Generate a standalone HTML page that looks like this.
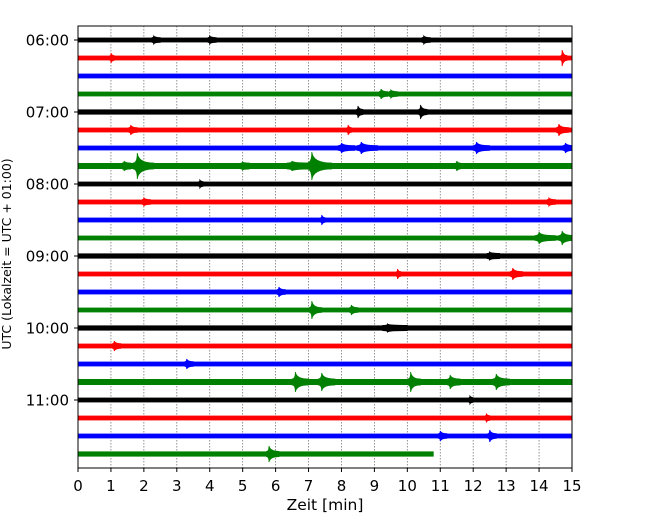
<!DOCTYPE html>
<html><head><meta charset="utf-8"><style>
body{margin:0;background:#fff;font-family:"Liberation Sans","DejaVu Sans",sans-serif}
svg text{font-family:"DejaVu Sans","Liberation Sans",sans-serif}
</style></head><body>
<svg id="chart" width="650" height="520" xmlns="http://www.w3.org/2000/svg">
<defs><clipPath id="plotclip"><rect x="78" y="26" width="494" height="442"/></clipPath></defs>
<g id="grid"></g>
<g id="traces" clip-path="url(#plotclip)"></g>
<rect x="78" y="26" width="494" height="442" fill="none" stroke="#000" stroke-width="1"/>
<g id="xaxis"></g>
<g id="yaxis"></g>
<text x="325" y="510" text-anchor="middle" font-size="15.5">Zeit  [min]</text>
<text transform="translate(11,254) rotate(-90)" text-anchor="middle" font-size="12.5">UTC (Lokalzeit = UTC + 01:00)</text>
</svg>
<script>
const xTicks=[0,1,2,3,4,5,6,7,8,9,10,11,12,13,14,15];
const hourLabels=["06:00","07:00","08:00","09:00","10:00","11:00"];
const rowColors=["#000","#f00","#00f","#008000"];
const rowNoise=[2.4,2.4,2.4,2.4,2.6,2.4,2.4,3,2.4,2.4,2.4,2.4,2.6,2.4,2.4,2.4,2.6,2.4,2.4,3,2.4,2.4,2.4,2.6];
const rowEnd=[15,15,15,15,15,15,15,15,15,15,15,15,15,15,15,15,15,15,15,15,15,15,15,10.8];
// events: [row, minute, amplitude, duration(min)]
const events=[[0,2.3,4,0.2],[0,4,4,0.2],[0,10.5,4,0.2],
[1,1,5,0.1],[1,14.7,8,0.15],
[3,9.2,5,0.2],[3,9.5,4,0.2],
[4,8.5,6,0.15],[4,10.4,7,0.2],
[5,1.6,5,0.2],[5,8.2,5,0.1],[5,14.6,6,0.3],
[6,8,5,0.4],[6,8.6,6,0.5],[6,12.1,6,0.4],[6,14.8,5,0.3],
[7,1.4,5,0.2],[7,1.8,13,0.5],[7,5,4,0.2],[7,6.5,5,0.6],[7,7.1,14,0.6],[7,11.5,5,0.1],
[8,3.7,4,0.1],[9,2,4,0.2],[9,14.3,4,0.2],[10,7.4,5,0.1],
[11,14,6,0.5],[11,14.7,7,0.4],
[12,12.5,4,0.3],[13,9.7,5,0.1],[13,13.2,6,0.3],[14,6.1,5,0.2],
[15,7.1,9,0.3],[15,8.3,5,0.2],[16,9.4,4,0.6],[17,1.1,5,0.2],[18,3.3,5,0.2],
[19,6.6,10,0.4],[19,7.4,9,0.4],[19,10.1,10,0.3],[19,11.3,7,0.3],[19,12.7,8,0.4],
[20,11.9,4,0.1],[21,12.4,4,0.1],[22,11,5,0.2],[22,12.5,6,0.2],[23,5.8,8,0.3]];
const NS="http://www.w3.org/2000/svg";
const X=m=>78+m*494/15, Y=r=>40+r*18;
function mk(t,a,p){const e=document.createElementNS(NS,t);for(const k in a)e.setAttribute(k,a[k]);p.appendChild(e);return e;}
const grid=document.getElementById('grid'),tr=document.getElementById('traces'),xa=document.getElementById('xaxis'),ya=document.getElementById('yaxis');
xTicks.forEach(t=>{
 if(t>0&&t<15){const g=mk('line',{x1:X(t),x2:X(t),y1:26,y2:468,stroke:'#777','stroke-width':0.8,'stroke-dasharray':'1.5,1.5'},grid);
 }
 const tk=mk('line',{x1:X(t),x2:X(t),y1:468,y2:472,stroke:'#000'},xa);
 
 const l=mk('text',{x:X(t),y:491,'text-anchor':'middle','font-size':15},xa);l.textContent=t;
 
});
hourLabels.forEach((h,i)=>{
 const y=Y(i*4);
 const tk=mk('line',{x1:74,x2:78,y1:y,y2:y,stroke:'#000'},ya);
 
 const l=mk('text',{x:69,y:y+5.5,'text-anchor':'end','font-size':15},ya);l.textContent=h;
 
});
rowNoise.forEach((n,r)=>{
 const c=rowColors[r%4];
 const b=mk('rect',{x:X(0),y:Y(r)-n,width:X(rowEnd[r])-X(0),height:2*n,fill:c},tr);
 
});
events.forEach(([r,m,a,d])=>{
 const c=rowColors[r%4],y=Y(r),n=rowNoise[r];
 const x0=X(m-d*0.25),x1=X(m),x2=X(m+d);
 const dd=`M${x0},${y-n} Q${x1},${y-n} ${x1},${y-a} Q${x1+1},${y-n} ${x2},${y-n} L${x2},${y+n} Q${x1+1},${y+n} ${x1},${y+a} Q${x1},${y+n} ${x0},${y+n} Z`;
 const p=mk('path',{d:dd,fill:c,stroke:c,'stroke-width':0.8},tr);
 
});
</script>
</body></html>
